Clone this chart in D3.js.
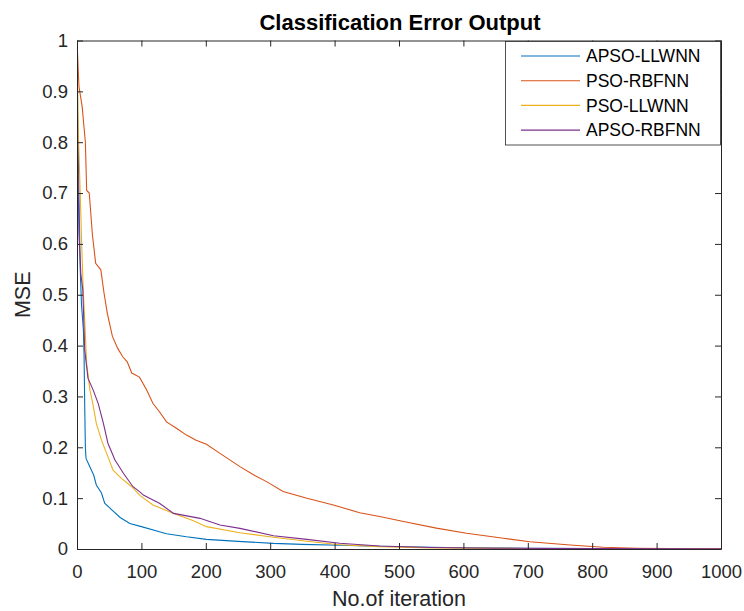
<!DOCTYPE html>
<html>
<head>
<meta charset="utf-8">
<script src="https://cdn.jsdelivr.net/npm/d3@7"></script>
<style>
  body { margin: 0; background: #fff; }
  text { font-family: "Liberation Sans", Arial, Helvetica, sans-serif; fill: #262626; }
</style>
</head>
<body>
<svg id="chart" width="744" height="611"></svg>
<script>
// values: [iteration, MSE]
var apsoLlwnn = [[0,1.0],[1,0.85],[3,0.7],[5,0.55],[7,0.48],[10,0.43],[11,0.38],[12,0.28],[13,0.2],[14,0.178],
  [21,0.159],[26,0.145],[30,0.126],[38,0.11],[43,0.09],[54,0.077],[67,0.062],[82,0.05],[100,0.044],[128,0.034],
  [139,0.03],[170,0.024],[201,0.019],[250,0.015],[305,0.011],[350,0.009],[408,0.0073],[450,0.006],[500,0.0045],
  [600,0.0025],[700,0.0015],[800,0.001],[900,0.0005],[1000,0.0002]];

var psoRbfnn = [[0,1.0],[1,0.97],[3,0.91],[8,0.87],[13,0.80],[15,0.705],[19,0.70],[24,0.617],[29,0.562],[37,0.549],
  [42,0.503],[47,0.464],[55,0.418],[63,0.395],[71,0.378],[78,0.368],[85,0.346],[97,0.338],[108,0.313],[118,0.286],
  [128,0.27],[139,0.25],[155,0.237],[170,0.224],[185,0.214],[201,0.206],[222,0.188],[253,0.162],[274,0.146],
  [295,0.132],[320,0.113],[357,0.0997],[398,0.0865],[439,0.0714],[470,0.064],[507,0.054],[558,0.041],[605,0.031],
  [662,0.021],[703,0.0144],[766,0.008],[817,0.0035],[869,0.0015],[920,0.0007],[1000,0.0002]];

var psoLlwnn = [[0,1.0],[2,0.82],[5,0.7],[8,0.57],[10,0.5],[12,0.45],[15,0.365],[20,0.313],[25,0.283],[30,0.247],
  [38,0.214],[46,0.188],[56,0.155],[69,0.139],[85,0.1225],[98,0.105],[118,0.0865],[150,0.07],[181,0.0557],
  [201,0.044],[253,0.032],[305,0.023],[357,0.0151],[408,0.0085],[470,0.0046],[550,0.0022],[700,0.001],
  [850,0.0005],[1000,0.0002]];

var apsoRbfnn = [[0,1.0],[1,0.8],[3,0.62],[6,0.54],[9,0.51],[12,0.391],[17,0.336],[25,0.313],[33,0.286],[41,0.247],
  [48,0.208],[59,0.175],[72,0.149],[87,0.1225],[98,0.112],[103,0.106],[118,0.0964],[128,0.09],[150,0.07],
  [191,0.0603],[222,0.0472],[253,0.0406],[305,0.0262],[357,0.019],[408,0.0112],[470,0.0059],[550,0.003],
  [650,0.0015],[800,0.0007],[1000,0.0002]];

var seriesNames = ["APSO-LLWNN", "PSO-RBFNN", "PSO-LLWNN", "APSO-RBFNN"];
var seriesData = [apsoLlwnn, psoRbfnn, psoLlwnn, apsoRbfnn];
var seriesColors = ["#0072BD", "#D95319", "#EDB120", "#7E2F8E"];
var xTicks = [0, 100, 200, 300, 400, 500, 600, 700, 800, 900, 1000];
var yTicks = [0, 0.1, 0.2, 0.3, 0.4, 0.5, 0.6, 0.7, 0.8, 0.9, 1];

var plotLeft = 77, plotRight = 721, plotTop = 40.5, plotBottom = 549,
    axisColor = "#262626";

var svg = d3.select("#chart");

var x = d3.scaleLinear().domain([0, 1000]).range([plotLeft, plotRight]);
var y = d3.scaleLinear().domain([0, 1]).range([plotBottom, plotTop]);

svg.append("defs").append("clipPath").attr("id", "plot")
   .append("rect")
   .attr("x", plotLeft).attr("y", plotTop)
   .attr("width", plotRight - plotLeft).attr("height", plotBottom - plotTop);

// lines
var line = d3.line()
   .x(function(d) { return x(d[0]); })
   .y(function(d) { return y(d[1]); });

svg.append("g").attr("clip-path", "url(#plot)")
   .selectAll("path")
   .data(seriesData)
   .enter()
   .append("path")
   .attr("d", line)
   .attr("fill", "none")
   .attr("stroke", function(d, i) { return seriesColors[i]; })
   .attr("stroke-width", 1.1);

// axes (ticks pointing inward, box all round)
function styleAxis(g) {
  g.selectAll("path, line").attr("stroke", axisColor);
  g.selectAll("text").attr("fill", axisColor).style("font-size", "18.5px")
   .style("font-family", "'Liberation Sans', Arial, Helvetica, sans-serif");
}

svg.append("g")
   .attr("transform", "translate(0," + plotBottom + ")")
   .call(d3.axisBottom(x).tickValues(xTicks).tickSizeInner(-6).tickSizeOuter(0).tickPadding(16)
         .tickFormat(d3.format("d")))
   .call(styleAxis);

svg.append("g")
   .attr("transform", "translate(0," + plotTop + ")")
   .call(d3.axisTop(x).tickValues(xTicks).tickSizeInner(-6).tickSizeOuter(0).tickFormat(""))
   .call(styleAxis);

svg.append("g")
   .attr("transform", "translate(" + plotLeft + ",0)")
   .call(d3.axisLeft(y).tickValues(yTicks).tickSizeInner(-6).tickSizeOuter(0).tickPadding(9)
         .tickFormat(function(d) { return +d.toFixed(1); }))
   .call(styleAxis);

svg.append("g")
   .attr("transform", "translate(" + plotRight + ",0)")
   .call(d3.axisRight(y).tickValues(yTicks).tickSizeInner(-6).tickSizeOuter(0).tickFormat(""))
   .call(styleAxis);

// titles
svg.append("text")
   .attr("x", 400).attr("y", 29.5)
   .attr("text-anchor", "middle")
   .style("font-size", "22px").style("font-weight", "bold")
   .style("fill", "#000")
   .text("Classification Error Output");

svg.append("text")
   .attr("x", (plotLeft + plotRight) / 2).attr("y", 606)
   .attr("text-anchor", "middle")
   .style("font-size", "21.5px")
   .text("No.of iteration");

svg.append("text")
   .attr("transform", "translate(30," + ((plotTop + plotBottom) / 2) + ") rotate(-90)")
   .attr("text-anchor", "middle")
   .style("font-size", "21.5px")
   .text("MSE");

// legend
var legend = svg.append("g");
legend.append("rect")
   .attr("x", 505.5).attr("y", 41.5)
   .attr("width", 215).attr("height", 103.5)
   .attr("fill", "#fff")
   .attr("stroke", axisColor)
   .attr("stroke-width", 0.8);

var entry = legend.selectAll("g.entry")
   .data(seriesNames)
   .enter()
   .append("g")
   .attr("class", "entry")
   .attr("transform", function(d, i) { return "translate(0," + (56 + i * 24.7) + ")"; });

entry.append("line")
   .attr("x1", 521).attr("x2", 580)
   .attr("stroke", function(d, i) { return seriesColors[i]; })
   .attr("stroke-width", 1.1);

entry.append("text")
   .attr("x", 586).attr("y", 6.2)
   .style("font-size", "17.5px")
   .style("fill", "#000")
   .text(function(d) { return d; });
</script>
</body>
</html>
